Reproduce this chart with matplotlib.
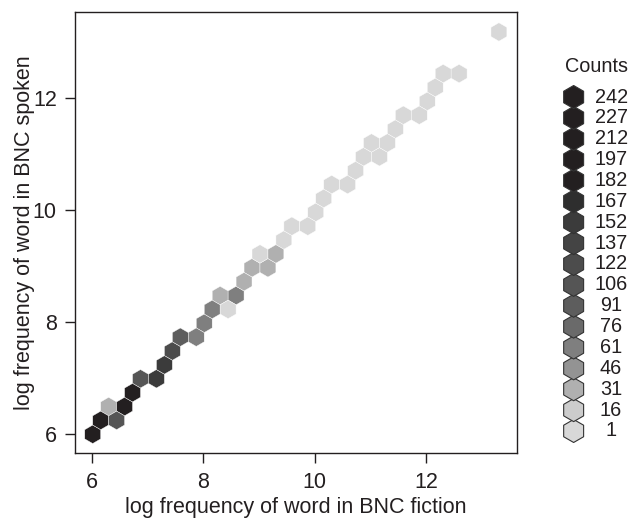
import numpy as np
import matplotlib
matplotlib.use("Agg")
import matplotlib.pyplot as plt
from matplotlib.colors import ListedColormap, BoundaryNorm

plt.rcParams["font.family"] = ["Liberation Sans", "DejaVu Sans"]

# hex cell centres (log frequency, fiction vs spoken) and word counts per cell
fiction = [6.02, 6.16, 6.45, 6.31, 6.59, 6.73, 6.88, 7.16, 7.30, 7.45,
           7.59, 7.88, 8.02, 8.16, 8.45, 8.30, 8.59, 8.73, 8.88, 9.16,
           9.02, 9.30, 9.45, 9.59, 9.87, 10.02, 10.16, 10.30, 10.59, 10.73,
           10.87, 11.16, 11.02, 11.30, 11.44, 11.59, 11.87, 12.02, 12.16, 12.30,
           12.59, 13.30]
spoken = [6.00, 6.25, 6.25, 6.50, 6.50, 6.74, 6.99, 6.99, 7.24, 7.49,
          7.73, 7.73, 7.98, 8.23, 8.23, 8.48, 8.48, 8.72, 8.97, 8.97,
          9.22, 9.22, 9.47, 9.72, 9.72, 9.96, 10.21, 10.46, 10.46, 10.71,
          10.95, 10.95, 11.20, 11.20, 11.45, 11.70, 11.70, 11.94, 12.19, 12.44,
          12.44, 13.18]
counts = [242, 215, 110, 38, 200, 190, 108, 155, 160, 125,
          92, 68, 66, 62, 9, 36, 63, 37, 35, 34,
          7, 33, 8, 6, 5, 6, 4, 5, 3, 4,
          3, 2, 2, 3, 2, 1, 2, 1, 1, 1,
          1, 1]

legend_levels = [1, 16, 31, 46, 61, 76, 91, 106, 122, 137, 152, 167, 182, 197, 212, 227, 242]
level_colors = ["#d8d8d8", "#cccccc", "#b0b0b0", "#939393", "#7f7f7f", "#6a6a6a",
                "#5d5d5d", "#555555", "#4c4c4c", "#444444", "#3b3b3b", "#2e2e2e",
                "#231f20", "#231f20", "#231f20", "#231f20", "#231f20"]

cmap = ListedColormap(level_colors)
norm = BoundaryNorm(legend_levels + [257], cmap.N)
txt = "#231f20"

fig = plt.figure(figsize=(6.32, 5.18), dpi=100)
ax = fig.add_axes([0.118, 0.1255, 0.6994, 0.852])

ax.hexbin(fiction, spoken, C=counts, reduce_C_function=np.sum,
          gridsize=(26, 15), extent=(6.02, 13.443, 6.0, 13.431),
          cmap=cmap, norm=norm, edgecolors="white", linewidths=0.3)

ax.set_xlim(5.695, 13.617)
ax.set_ylim(5.666, 13.546)
ax.set_xticks([6, 8, 10, 12])
ax.set_yticks([6, 8, 10, 12])
ax.tick_params(direction="out", length=7, width=1, colors=txt, labelsize=15.5)
ax.tick_params(axis="x", pad=7)
ax.tick_params(axis="y", pad=5.8)
for s in ax.spines.values():
    s.set_color(txt)
    s.set_linewidth(1)
ax.set_xlabel("log frequency of word in BNC fiction", fontsize=15.5, color=txt)
ax.set_ylabel("log frequency of word in BNC spoken", fontsize=15.5, color=txt)
ax.xaxis.set_label_coords(0.5, -0.0995)
ax.yaxis.set_label_coords(-0.0898, 0.5)

# legend of hexagons
lax = fig.add_axes([0.886, 0.168, 0.114, 0.6447])
lax.set_xlim(0, 1)
lax.set_ylim(0, 16)
lax.axis("off")
ypos = np.arange(len(legend_levels))
lax.scatter(np.full(len(ypos), 0.19), ypos, c=legend_levels, cmap=cmap, norm=norm,
            marker="h", s=275, edgecolors="#333333", linewidths=0.8, clip_on=False)
for y, lab in zip(ypos, legend_levels):
    lax.text(0.71, y, str(lab), ha="center", va="center", fontsize=14.3, color=txt)
fig.text(0.944, 0.872, "Counts", ha="center", va="center", fontsize=14.3, color=txt)

fig.savefig("out.png", dpi=100)
